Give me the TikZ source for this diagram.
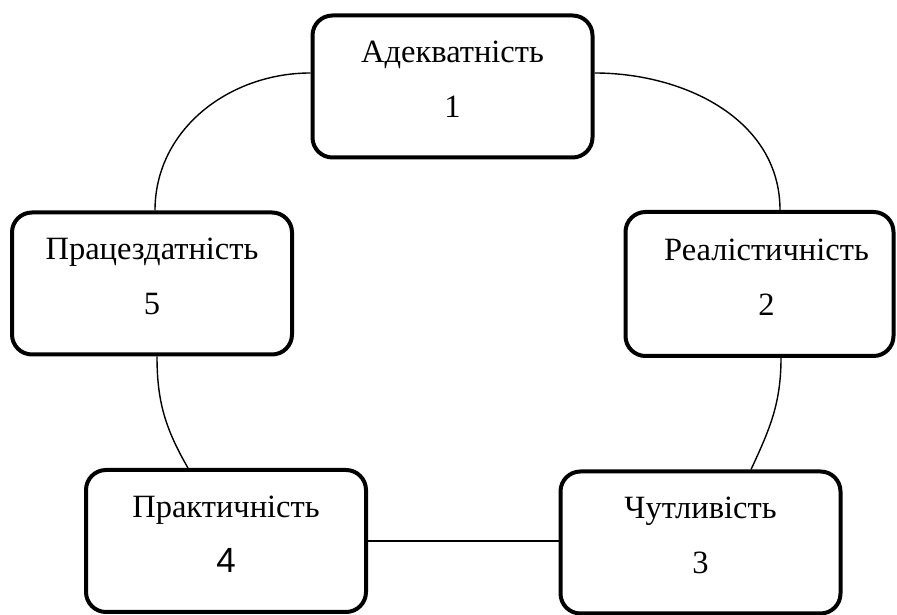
\documentclass[tikz,border=0pt]{standalone}
\usepackage{fontspec}
\setmainfont{Liberation Serif}
\newfontfamily\digitsans{Liberation Sans}
\newcommand{\critlines}[2]{#1\\#2\rule[-14pt]{0pt}{14pt}}

\begin{document}
\begin{tikzpicture}[x=1pt,y=1pt,
  crit/.style={draw,line width=4pt,rounded corners=20pt,
    minimum width=280pt,minimum height=142pt,inner sep=0pt,
    align=center,font=\fontsize{32.5}{55}\selectfont},
  link/.style={line width=1.4pt}]

\useasboundingbox (0,0) rectangle (897,615);

%criteria boxes
  \node[crit] (adek) at (452.5,528.5) {\critlines{Адекватність}{1}};
  \node[crit,minimum width=268pt,minimum height=144pt] (real) at (759.5,331)
    {\critlines{\hspace*{14pt}Реалістичність}{\hspace*{14pt}2}};
  \node[crit] (chut) at (700.5,72.5) {\critlines{Чутливість}{3}};
  \node[crit] (prak) at (226,74) {\critlines{Практичність}{{\digitsans\fontsize{35}{55}\selectfont 4}}};
  \node[crit] (prac) at (152,331.5) {\critlines{Працездатність}{5}};

%connections
  \draw[link] ([yshift=13.5pt]adek.west) to[out=180,in=90] ([xshift=3pt]prac.north);
  \draw[link] ([yshift=13.5pt]adek.east) to[out=0,in=90] ([xshift=20.5pt]real.north);
  \draw[link] ([xshift=21.5pt]real.south) to[out=-90,in=65] ([xshift=50.5pt]chut.north);
  \draw[link] ([xshift=5pt]prac.south) to[out=-90,in=120] ([xshift=-38pt]prak.north);
  \draw[link] (prak.east) -- (prak.east -| chut.west);

\end{tikzpicture}
\end{document}
